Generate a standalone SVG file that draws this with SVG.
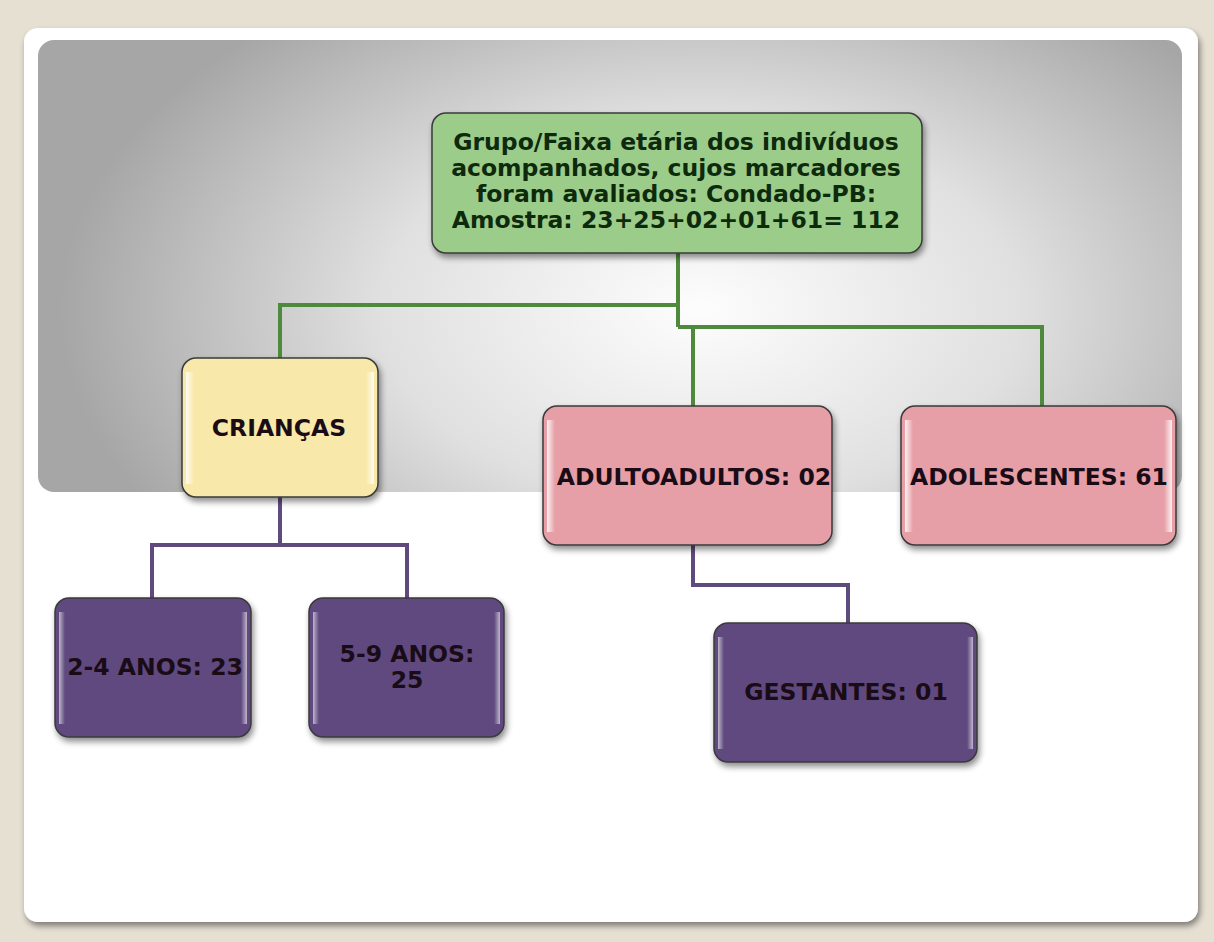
<svg xmlns="http://www.w3.org/2000/svg" width="1214" height="942" viewBox="0 0 1214 942">
<defs>
<radialGradient id="bg" cx="700" cy="310" r="640" gradientUnits="userSpaceOnUse" gradientTransform="translate(700 310) scale(1 0.6) translate(-700 -310)">
<stop offset="0" stop-color="#fdfdfd"/>
<stop offset="0.5" stop-color="#e0e0e0"/>
<stop offset="1" stop-color="#a6a6a6"/>
</radialGradient>
<linearGradient id="hl" x1="0" y1="0" x2="1" y2="0">
<stop offset="0" stop-color="#fff" stop-opacity="0.85"/>
<stop offset="1" stop-color="#fff" stop-opacity="0"/>
</linearGradient>
<linearGradient id="hr" x1="0" y1="0" x2="1" y2="0">
<stop offset="0" stop-color="#fff" stop-opacity="0"/>
<stop offset="1" stop-color="#fff" stop-opacity="0.85"/>
</linearGradient>
<filter id="sh" x="-10%" y="-10%" width="125%" height="130%">
<feGaussianBlur in="SourceAlpha" stdDeviation="3"/>
<feOffset dx="2" dy="4"/>
<feComponentTransfer><feFuncA type="linear" slope="0.45"/></feComponentTransfer>
<feMerge><feMergeNode/><feMergeNode in="SourceGraphic"/></feMerge>
</filter>
</defs>
<style>
.box{stroke:#3a3a3a;stroke-width:1.5;filter:url(#sh)}
.green{fill:#9ccc8a}
.yellow{fill:#f8e9aa}
.pink{fill:#e79fa7}
.purple{fill:#5f4a7e}
.t{font-family:"DejaVu Sans",Verdana,sans-serif;font-weight:bold;font-size:23.5px;text-anchor:middle;fill:#1a0c16}
.tg{font-family:"DejaVu Sans",Verdana,sans-serif;font-weight:bold;font-size:23.5px;text-anchor:middle;fill:#0d2a0d}
.cg{fill:none;stroke:#4f8a3c;stroke-width:4}
.cp{fill:none;stroke:#5f4a7e;stroke-width:4}
</style>
<rect x="0" y="0" width="1214" height="942" fill="#e6e0d3"/>
<rect x="24" y="28" width="1174" height="894" rx="14" fill="#ffffff" filter="url(#sh)"/>
<rect x="38" y="40" width="1144" height="452" rx="16" fill="url(#bg)"/>
<g id="connectors">
<path class="cg" d="M678 253 V327 M280 358 V305 H678 M678 327 H1042 V406 M693 327 V406"/>
<path class="cp" d="M280 497 V545 M152 598 V545 H407 V598 M693 545 V585 H848 V623"/>
</g>
<g id="n-top">
<rect class="box green" x="432" y="113" width="490" height="140" rx="14"/>
<text class="tg" x="676" y="150">Grupo/Faixa etária dos indivíduos</text>
<text class="tg" x="676" y="176">acompanhados, cujos marcadores</text>
<text class="tg" x="676" y="202">foram avaliados: Condado-PB:</text>
<text class="tg" x="676" y="228">Amostra: 23+25+02+01+61= 112</text>
</g>
<g id="n-criancas">
<rect class="box yellow" x="182" y="358" width="196" height="139" rx="14"/>
<rect x="186" y="372" width="8" height="112" fill="url(#hl)"/>
<rect x="366" y="372" width="8" height="112" fill="url(#hr)"/>
<text class="t" x="279" y="436">CRIANÇAS</text>
</g>
<g id="n-adultos">
<rect class="box pink" x="543" y="406" width="289" height="139" rx="14"/>
<rect x="547" y="420" width="8" height="112" fill="url(#hl)"/>
<text class="t" x="694" y="485">ADULTOADULTOS: 02</text>
</g>
<g id="n-adolescentes">
<rect class="box pink" x="901" y="406" width="275" height="139" rx="14"/>
<rect x="905" y="420" width="8" height="112" fill="url(#hl)"/>
<rect x="1164" y="420" width="8" height="112" fill="url(#hr)"/>
<text class="t" x="1039" y="485">ADOLESCENTES: 61</text>
</g>
<g id="n-24">
<rect class="box purple" x="55" y="598" width="196" height="139" rx="14"/>
<rect x="59" y="612" width="6" height="112" fill="url(#hl)" opacity="0.7"/>
<rect x="241" y="612" width="6" height="112" fill="url(#hr)" opacity="0.7"/>
<text class="t" x="155" y="675">2-4 ANOS: 23</text>
</g>
<g id="n-59">
<rect class="box purple" x="309" y="598" width="195" height="139" rx="14"/>
<rect x="313" y="612" width="6" height="112" fill="url(#hl)" opacity="0.7"/>
<rect x="494" y="612" width="6" height="112" fill="url(#hr)" opacity="0.7"/>
<text class="t" x="407" y="662">5-9 ANOS:</text>
<text class="t" x="407" y="688">25</text>
</g>
<g id="n-gestantes">
<rect class="box purple" x="714" y="623" width="263" height="139" rx="14"/>
<rect x="718" y="637" width="6" height="112" fill="url(#hl)" opacity="0.7"/>
<rect x="967" y="637" width="6" height="112" fill="url(#hr)" opacity="0.7"/>
<text class="t" x="846" y="700">GESTANTES: 01</text>
</g>
</svg>
